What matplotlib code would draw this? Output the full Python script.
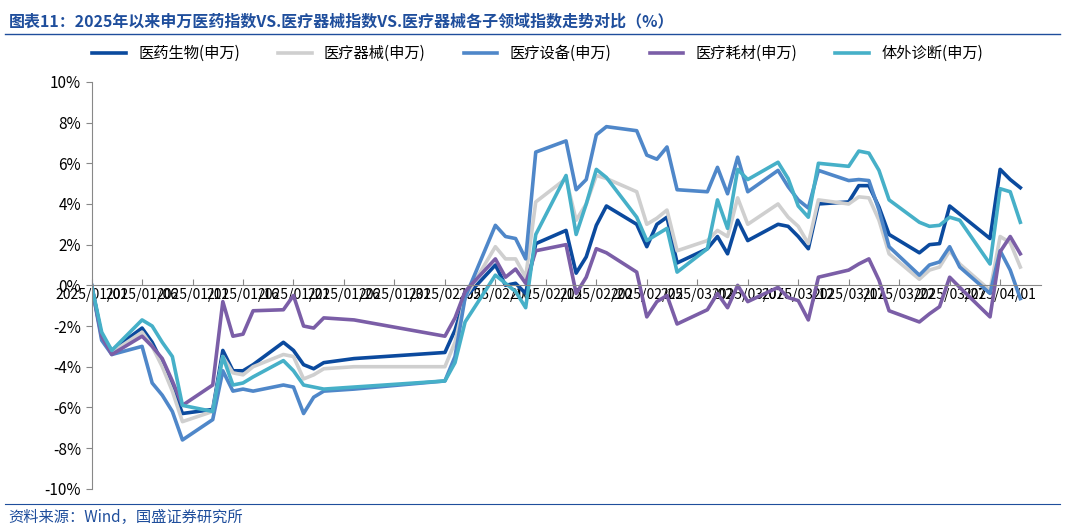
import matplotlib
matplotlib.use("Agg")
from matplotlib import pyplot as plt
import pandas as pd
import numpy as np

plt.rcParams["font.family"] = ["Noto Sans CJK SC", "DejaVu Sans"]

dates = ["2025-01-01", "2025-01-02", "2025-01-03", "2025-01-06", "2025-01-07", "2025-01-08", "2025-01-09", "2025-01-10",
         "2025-01-13", "2025-01-14", "2025-01-15", "2025-01-16", "2025-01-17", "2025-01-20", "2025-01-21", "2025-01-22",
         "2025-01-23", "2025-01-24", "2025-01-27", "2025-02-05", "2025-02-06", "2025-02-07", "2025-02-10", "2025-02-11",
         "2025-02-12", "2025-02-13", "2025-02-14", "2025-02-17", "2025-02-18", "2025-02-19", "2025-02-20", "2025-02-21",
         "2025-02-24", "2025-02-25", "2025-02-26", "2025-02-27", "2025-02-28", "2025-03-03", "2025-03-04", "2025-03-05",
         "2025-03-06", "2025-03-07", "2025-03-10", "2025-03-11", "2025-03-12", "2025-03-13", "2025-03-14", "2025-03-17",
         "2025-03-18", "2025-03-19", "2025-03-20", "2025-03-21", "2025-03-24", "2025-03-25", "2025-03-26", "2025-03-27",
         "2025-03-28", "2025-03-31", "2025-04-01", "2025-04-02", "2025-04-03"]

pharma = [0, -2.5, -3.2, -2.1, -2.8, -3.8, -5.0, -6.3, -6.1, -3.2, -4.2, -4.2, -3.9, -2.8, -3.2, -3.9, -4.1, -3.8, -3.6,
          -3.3, -2.2, -0.6, 1.0, 0.0, 0.1, -0.4, 2.05, 2.7, 0.6, 1.4, 2.95, 3.9, 3.0, 1.9, 3.0, 3.35, 1.1, 1.8, 2.4, 1.55,
          3.2, 2.2, 3.0, 2.9, 2.4, 1.8, 4.0, 4.1, 4.9, 4.9, 3.85, 2.5, 1.6, 2.0, 2.05, 3.9, 3.5, 2.3, 5.7, 5.2, 4.8]
devices = [0, -2.6, -3.3, -2.3, -3.0, -4.0, -5.2, -6.7, -6.2, -3.5, -4.3, -4.4, -4.0, -3.4, -3.5, -4.6, -4.4, -4.1, -4.0,
           -4.0, -2.8, -0.6, 1.9, 1.3, 1.3, 0.4, 4.1, 5.25, 3.2, 4.0, 5.4, 5.25, 4.6, 3.0, 3.3, 3.7, 1.7, 2.2, 2.7, 2.4,
           4.3, 3.0, 4.0, 3.35, 2.9, 2.05, 4.2, 4.0, 4.35, 4.3, 3.2, 1.55, 0.3, 0.75, 0.9, 1.7, 1.05, -0.25, 2.4, 2.1, 0.9]
equipment = [0, -2.7, -3.4, -3.0, -4.8, -5.4, -6.2, -7.6, -6.6, -4.2, -5.2, -5.1, -5.2, -4.9, -5.0, -6.3, -5.5, -5.2, -5.1,
             -4.7, -3.5, -0.6, 2.95, 2.4, 2.3, 1.3, 6.55, 7.1, 4.7, 5.2, 7.4, 7.8, 7.6, 6.4, 6.2, 6.8, 4.7, 4.6, 5.8, 4.5,
             6.3, 4.6, 5.65, 4.85, 4.2, 3.8, 5.65, 5.15, 5.2, 5.15, 3.7, 1.9, 0.5, 1.0, 1.15, 1.9, 0.9, -0.4, 1.7, 0.75, -0.65]
consumables = [0, -2.5, -3.4, -2.5, -3.0, -3.6, -4.7, -5.9, -4.9, -0.8, -2.5, -2.4, -1.25, -1.2, -0.5, -2.0, -2.1, -1.6, -1.7,
               -2.5, -1.6, -0.3, 1.3, 0.4, 0.8, 0.1, 1.7, 2.0, -0.4, 0.4, 1.8, 1.6, 0.65, -1.55, -0.8, -0.5, -1.9, -1.2, -0.4,
               -1.1, 0.0, -0.8, -0.1, -0.6, -0.75, -1.7, 0.4, 0.75, 1.05, 1.3, 0.25, -1.25, -1.8, -1.4, -1.05, 0.4, -0.1,
               -1.55, 1.65, 2.4, 1.55]
ivd = [0, -2.3, -3.2, -1.7, -2.0, -2.8, -3.5, -5.9, -6.2, -3.5, -4.9, -4.8, -4.5, -3.7, -4.2, -4.9, -5.0, -5.1, -5.0,
       -4.7, -3.8, -1.8, 0.5, 0.1, -0.3, -1.1, 2.5, 5.4, 2.5, 4.0, 5.7, 5.3, 3.35, 2.2, 2.5, 2.8, 0.65, 1.8, 4.2, 2.8,
       5.7, 5.2, 6.05, 5.25, 3.9, 3.35, 6.0, 5.85, 6.6, 6.5, 5.65, 4.2, 3.1, 2.9, 2.95, 3.35, 3.2, 1.05, 4.75, 4.6, 3.1]

names = ["医药生物(申万)", "医疗器械(申万)", "医疗设备(申万)", "医疗耗材(申万)", "体外诊断(申万)"]
colors = ["#0b4a9e", "#cfcfcf", "#4f87c9", "#7b5ea7", "#46b0c8"]

x = pd.to_datetime(dates)
fig = plt.figure(figsize=(10.65, 5.25), dpi=100)
ax = fig.add_axes([0.086, 0.069, 0.891, 0.775])
for s, n, c in zip([pharma, devices, equipment, consumables, ivd], names, colors):
    ax.plot(x, s, color=c, lw=2.6, label=n)

ax.set_ylim(-10, 10)
ax.set_xlim(pd.Timestamp("2025-01-01"), pd.Timestamp("2025-04-05"))
ax.set_yticks(np.arange(-10, 11, 2))
ax.set_yticklabels([f"{v}%" for v in range(-10, 11, 2)], fontsize=11)
ticks = pd.date_range("2025-01-01", "2025-04-01", freq="5D")
ax.set_xticks(ticks)
ax.set_xticklabels([t.strftime("%Y/%m/%d") for t in ticks], rotation=40, ha="right",
                   rotation_mode="anchor", fontsize=11)
ax.spines["bottom"].set_position(("data", 0))
ax.spines["top"].set_visible(False)
ax.spines["right"].set_visible(False)
ax.spines["bottom"].set_color("#888888")
ax.spines["left"].set_color("#888888")
ax.tick_params(axis="x", direction="in", length=4, color="#888888", pad=2)
ax.tick_params(axis="y", direction="out", length=4, color="#888888")

ax.legend(loc="center", bbox_to_anchor=(0.47, 1.07), ncol=5, frameon=False, fontsize=11,
          handlelength=2.2, columnspacing=2.5)

fig.text(0.008, 0.975, "图表11：2025年以来申万医药指数VS.医疗器械指数VS.医疗器械各子领域指数走势对比（%）",
         color="#1f4e9c", fontsize=11.5, style="italic", weight="bold", va="top")
fig.add_artist(plt.Line2D([0.005, 0.995], [0.935, 0.935], color="#1f4e9c", lw=1))
fig.add_artist(plt.Line2D([0.005, 0.995], [0.04, 0.04], color="#1f4e9c", lw=0.8))
fig.text(0.008, 0.005, "资料来源：Wind，国盛证券研究所", color="#1f4e9c", fontsize=11, style="italic")

fig.savefig("out.png", dpi=100)
